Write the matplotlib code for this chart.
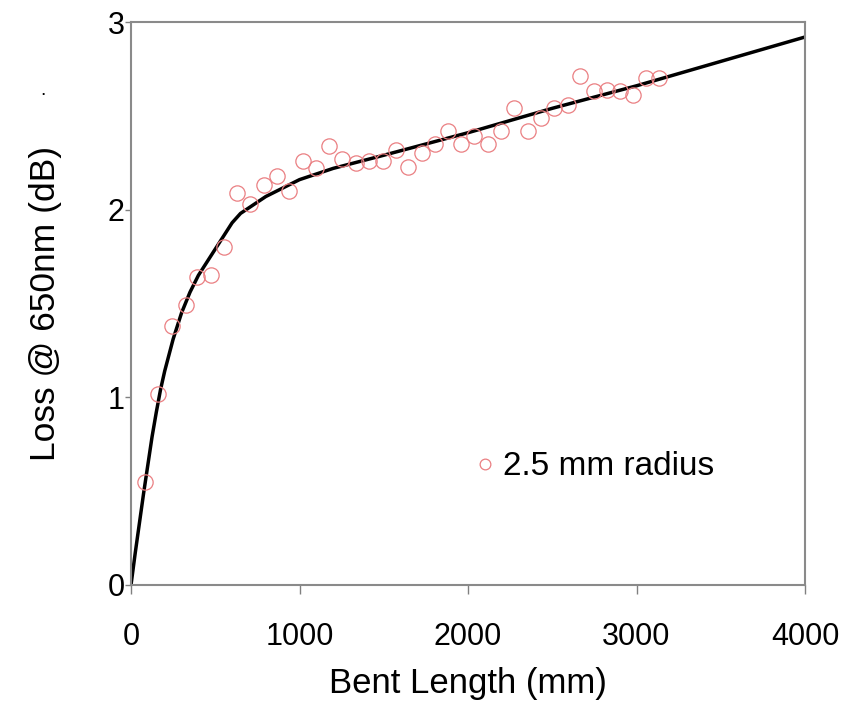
import matplotlib
matplotlib.use("Agg")
import matplotlib.pyplot as plt

plt.rcParams['font.family'] = ['Liberation Sans', 'DejaVu Sans']

# measured points, 2.5 mm radius
bent_mm = [83, 160, 243, 326, 392, 475, 552, 629, 706, 789, 866, 938,
           1021, 1098, 1175, 1252, 1335, 1412, 1496, 1573, 1644, 1727,
           1804, 1881, 1958, 2036, 2119, 2196, 2273, 2356, 2433, 2510,
           2593, 2665, 2748, 2825, 2902, 2979, 3056, 3134]
loss_db = [0.55, 1.02, 1.38, 1.49, 1.64, 1.65, 1.80, 2.09, 2.03, 2.13,
           2.18, 2.10, 2.26, 2.22, 2.34, 2.27, 2.25, 2.26, 2.26, 2.32,
           2.23, 2.30, 2.35, 2.42, 2.35, 2.39, 2.35, 2.42, 2.54, 2.42,
           2.49, 2.54, 2.56, 2.71, 2.63, 2.64, 2.63, 2.61, 2.70, 2.70]

# fitted curve
fit_mm = [0, 25, 50, 75, 100, 125, 150, 175, 200, 250, 300, 350, 400,
          450, 500, 550, 600, 650, 700, 800, 1000, 1200, 1500, 2000,
          2500, 3000, 3500, 4000]
fit_db = [0, 0.17, 0.33, 0.49, 0.64, 0.79, 0.92, 1.04, 1.14, 1.31, 1.45,
          1.56, 1.65, 1.72, 1.79, 1.86, 1.93, 1.98, 2.01, 2.07, 2.16,
          2.22, 2.29, 2.41, 2.54, 2.66, 2.79, 2.92]

xticks = [0, 1000, 2000, 3000, 4000]
yticks = [0, 1, 2, 3]

fig = plt.figure(figsize=(8.55, 7.01), dpi=100)
ax = fig.add_axes([131/855, 1 - 585/701, 674/855, 563/701])

ax.plot(fit_mm, fit_db, color='black', lw=2.5, zorder=2)
ax.plot(bent_mm, loss_db, 'o', ms=11, mfc='none', mec='#ea7f82', mew=0.9,
        label='2.5 mm radius', zorder=3)

ax.set_xlim(0, 4000)
ax.set_ylim(0, 3)
ax.set_xticks(xticks)
ax.set_yticks(yticks)
ax.tick_params(direction='out', width=1, color='#808080', labelsize=22)
ax.tick_params(axis='x', length=6.5, pad=20)
ax.tick_params(axis='y', length=4, pad=0.5)
for s in ax.spines.values():
    s.set_color('#8a8a8a')
    s.set_linewidth(1.5)

ax.set_xlabel('Bent Length (mm)', fontsize=25, labelpad=11)
ax.set_ylabel('Loss @ 650nm (dB)', fontsize=25.5, labelpad=33)

ax.legend(loc='center left', bbox_to_anchor=(0.461, 0.21), frameon=False,
          fontsize=24, markerscale=0.7, handletextpad=0.15, handlelength=0.8)

fig.text(40/855, 1 - 95/701, '.', fontsize=14)

fig.savefig('out.png', dpi=100)
